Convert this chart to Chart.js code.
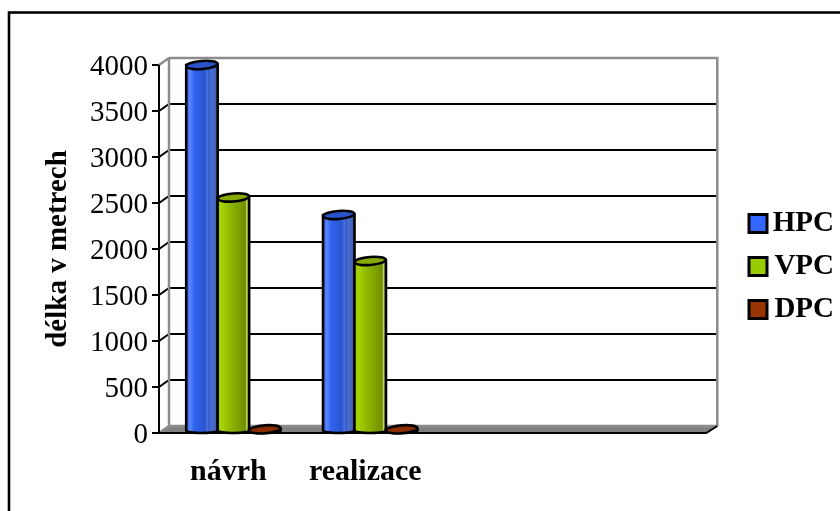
<!DOCTYPE html>
<html>
<head>
<meta charset="utf-8">
<style>
  html, body { margin: 0; padding: 0; background: #fff; }
  #wrap { width: 840px; height: 511px; }
</style>
<script src="https://cdn.jsdelivr.net/npm/chart.js@4/dist/chart.umd.js"></script>
</head>
<body>
<div id="wrap"><canvas id="chart" width="840" height="511"></canvas></div>
<script>
const categories = ['návrh', 'realizace', '', ''];
const hpcValues = [4000, 2370, null, null];
const vpcValues = [2560, 1870, null, null];
const dpcValues = [40, 40, null, null];
const yTicks = [0, 500, 1000, 1500, 2000, 2500, 3000, 3500, 4000];

const SERIF = '"Liberation Serif", "Times New Roman", serif';
const DEPTH_X = 10, DEPTH_Y = 7;

// light/dark stops across the width of a cylinder
const shades = {
  HPC: { stops: [[0, '#2c5be0'], [0.12, '#5c86ff'], [0.25, '#3163ee'], [0.6, '#2b55cf'], [0.68, '#4d74e0'], [0.72, '#3158c8'], [0.8, '#4a6ed0'], [1, '#3e5ba8']], top: '#2a54cc' },
  VPC: { stops: [[0, '#a6d600'], [0.15, '#a2d000'], [0.55, '#86aa00'], [0.88, '#6f8e00'], [0.92, '#c0d860'], [1, '#6f8e00']], top: '#86aa00' },
  DPC: { stops: [[0, '#8a2e00'], [1, '#7a2800']], top: '#8a2e00' }
};

const frame3d = {
  id: 'frame3d',
  beforeDraw(chart) {
    const { ctx } = chart;
    // outer border, only top and left fall inside the picture
    ctx.save();
    ctx.strokeStyle = '#000';
    ctx.lineWidth = 2.6;
    ctx.strokeRect(9, 12.5, 900, 600);
    ctx.restore();
    // legend is placed by hand, the layout box does not land where it should
    chart.legend.left = 735;
    chart.legend.right = 834;
    chart.legend.top = 195;
    chart.legend.bottom = 500;
  },
  beforeDatasetsDraw(chart) {
    const { ctx, chartArea: a, scales: { y } } = chart;
    const frontL = a.left - 6, frontR = a.right - 6, y0 = y.getPixelForValue(0), yMax = y.getPixelForValue(4000);
    const backL = frontL + DEPTH_X, backR = frontR + 11;
    ctx.save();
    // floor
    ctx.fillStyle = '#808080';
    ctx.beginPath();
    ctx.moveTo(frontL, y0); ctx.lineTo(frontR, y0); ctx.lineTo(backR, y0 - DEPTH_Y); ctx.lineTo(backL, y0 - DEPTH_Y);
    ctx.closePath(); ctx.fill();
    // gridlines and ticks
    yTicks.forEach(v => {
      const py = y.getPixelForValue(v);
      ctx.strokeStyle = '#000'; ctx.lineWidth = 2;
      ctx.beginPath();
      ctx.moveTo(frontL - 7, py); ctx.lineTo(frontL, py);
      if (v > 0 && v < 4000) { ctx.lineTo(backL, py - DEPTH_Y); ctx.lineTo(backR, py - DEPTH_Y); }
      ctx.stroke();
    });
    // grey walls
    ctx.strokeStyle = '#8c8c8c'; ctx.lineWidth = 2.5;
    ctx.beginPath();
    ctx.moveTo(frontL, yMax); ctx.lineTo(backL, yMax - DEPTH_Y); ctx.lineTo(backR, yMax - DEPTH_Y); ctx.lineTo(backR, y0 - DEPTH_Y);
    ctx.moveTo(backL, yMax - DEPTH_Y); ctx.lineTo(backL, y0 - DEPTH_Y);
    ctx.moveTo(frontL, y0); ctx.lineTo(backL, y0 - DEPTH_Y); ctx.lineTo(backR, y0 - DEPTH_Y);
    ctx.stroke();
    // black axis and floor front edge
    ctx.strokeStyle = '#000'; ctx.lineWidth = 2;
    ctx.beginPath();
    ctx.moveTo(frontL, yMax); ctx.lineTo(frontL, y0); ctx.lineTo(frontR, y0); ctx.lineTo(backR, y0 - DEPTH_Y);
    ctx.stroke();
    ctx.restore();
  },
  afterDatasetsDraw(chart) {
    const { ctx } = chart;
    chart.data.datasets.forEach((ds, i) => {
      const shade = shades[ds.label];
      chart.getDatasetMeta(i).data.forEach((bar, j) => {
        if (ds.data[j] === null) return;
        drawCylinder(ctx, bar.x, bar.y, bar.width, bar.base, shade);
      });
    });
  }
};

function drawCylinder(ctx, x, top, w, base, shade) {
  const rx = w / 2, tilt = -0.08;
  const bottom = base - 2.5;
  const l = x - rx, r = x + rx;
  ctx.save();
  ctx.lineWidth = 2.6;
  ctx.strokeStyle = '#000';
  if (bottom > top + 1) {
    const g = ctx.createLinearGradient(l, 0, r, 0);
    shade.stops.forEach(s => g.addColorStop(s[0], s[1]));
    ctx.fillStyle = g;
    ctx.beginPath();
    ctx.moveTo(l, top);
    ctx.lineTo(l, bottom);
    ctx.ellipse(x, bottom, rx, 2.5, 0, Math.PI, 0, true);
    ctx.lineTo(r, top);
    ctx.closePath();
    ctx.fill();
    ctx.stroke();
  }
  ctx.fillStyle = shade.top;
  ctx.beginPath();
  ctx.ellipse(x, top, rx, 4, tilt, 0, Math.PI * 2);
  ctx.fill();
  ctx.stroke();
  ctx.restore();
}

Chart.defaults.color = '#000';
Chart.defaults.font.family = SERIF;

new Chart(document.getElementById('chart'), {
  type: 'bar',
  data: {
    labels: categories,
    datasets: [
      { label: 'HPC', data: hpcValues, backgroundColor: '#3366ff', borderWidth: 0 },
      { label: 'VPC', data: vpcValues, backgroundColor: '#99cc00', borderWidth: 0 },
      { label: 'DPC', data: dpcValues, backgroundColor: '#993300', borderWidth: 0 }
    ]
  },
  options: {
    responsive: false,
    animation: false,
    layout: { padding: { top: 65, left: 41, right: 10, bottom: 0 } },
    datasets: { bar: { categoryPercentage: 0.69, barPercentage: 1, borderSkipped: false, borderRadius: { bottomLeft: 4, bottomRight: 4, topLeft: 0, topRight: 0 } } },
    scales: {
      x: {
        grid: { display: false, drawTicks: false },
        border: { display: false },
        afterFit(scale) { scale.height = 78; },
        ticks: { autoSkip: false, maxRotation: 0, labelOffset: -5, padding: 21, font: { size: 30, weight: 'bold' } }
      },
      y: {
        min: 0,
        max: 4000,
        afterFit(scale) { scale.width = 124; },
        afterBuildTicks(scale) { scale.ticks = yTicks.map(v => ({ value: v })); },
        grid: { display: false, drawTicks: false },
        border: { display: false },
        ticks: { padding: 17, labelOffset: 2, font: { size: 29 }, callback: v => String(v) },
        title: { display: true, text: 'délka v metrech', padding: 0, font: { size: 29, weight: 'bold' } }
      }
    },
    plugins: {
      tooltip: { enabled: false },
      legend: {
        position: 'right',
        align: 'start',
        labels: {
          boxWidth: 18,
          boxHeight: 18,
          padding: 14,
          font: { size: 29, weight: 'bold' },
          generateLabels(chart) {
            return chart.data.datasets.map((ds, i) => ({
              text: ds.label, fillStyle: ds.backgroundColor, strokeStyle: '#000', lineWidth: 3, datasetIndex: i, textAlign: 'right'
            }));
          }
        }
      }
    }
  },
  plugins: [frame3d]
});
</script>
</body>
</html>
